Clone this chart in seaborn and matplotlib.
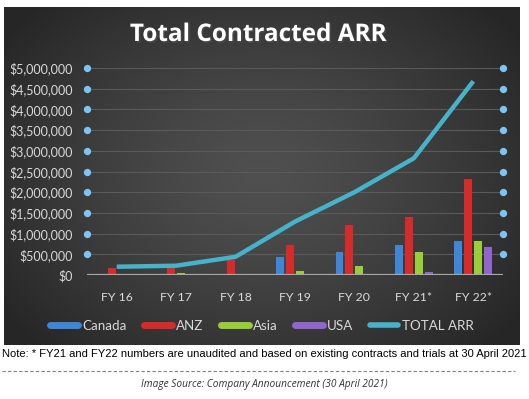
import numpy as np
import pandas as pd
import matplotlib
matplotlib.use("Agg")
import matplotlib.pyplot as plt
import seaborn as sns
from matplotlib.lines import Line2D
import matplotlib.patheffects as pe

# ---- data ----
categories = ["FY 16", "FY 17", "FY 18", "FY 19", "FY 20", "FY 21*", "FY 22*"]
canada = [0, 0, 0, 430000, 550000, 730000, 830000]
anz = [165000, 165000, 365000, 730000, 1210000, 1400000, 2320000]
asia = [0, 40000, 15000, 90000, 220000, 565000, 810000]
usa = [0, 0, 0, 0, 0, 65000, 670000]
total_arr = [200000, 225000, 440000, 1290000, 2000000, 2820000, 4680000]
regions = ["Canada", "ANZ", "Asia", "USA"]
yticks = [0, 500000, 1000000, 1500000, 2000000, 2500000, 3000000,
          3500000, 4000000, 4500000, 5000000]
ytick_labels = ["$0", "$500,000", "$1,000,000", "$1,500,000", "$2,000,000",
                "$2,500,000", "$3,000,000", "$3,500,000", "$4,000,000",
                "$4,500,000", "$5,000,000"]
title = "Total Contracted ARR"
note = "Note: * FY21 and FY22 numbers are unaudited and based on existing contracts and trials at 30 April 2021"
source = "Image Source: Company Announcement (30 April 2021)"

colors = {"Canada": "#3F86D6", "ANZ": "#D62B2B", "Asia": "#9ACD3A", "USA": "#9066CC"}
line_color = "#46B3CB"
text_color = "#D9D9D9"

df = pd.DataFrame({
    "cat": np.repeat(categories, 4),
    "region": regions * len(categories),
    "value": np.ravel(np.column_stack([canada, anz, asia, usa])),
})

W, H = 529, 399
fig = plt.figure(figsize=(W / 100, H / 100), dpi=100)
fig.patch.set_facecolor("white")

# dark gradient panel
bg = fig.add_axes([4 / W, 1 - 345 / H, 516 / W, 338 / H], zorder=-5)
gx, gy = np.meshgrid(np.linspace(0, 1, 300), np.linspace(0, 1, 200))
r = np.clip(np.sqrt(((gx - 0.5) / 0.62) ** 2 + ((gy - 0.5) / 0.72) ** 2), 0, 1)
center = np.array([0x50, 0x50, 0x50]) / 255
edge = np.array([0x26, 0x26, 0x26]) / 255
img = center[None, None, :] + (edge - center)[None, None, :] * (r[..., None] ** 1.3)
bg.imshow(img, aspect="auto", extent=(0, 1, 0, 1), origin="lower")
bg.axis("off")

ax = fig.add_axes([87 / W, 1 - 275 / H, 416 / W, 207 / H])
ax.set_facecolor("none")

sns.barplot(data=df, x="cat", y="value", hue="region", order=categories,
            hue_order=regions, palette=colors, width=0.67, gap=0.2,
            saturation=1, legend=False, ax=ax, zorder=3)
sns.lineplot(x=np.arange(len(categories)), y=total_arr, color=line_color,
             lw=3.2, ax=ax, zorder=4, solid_capstyle="butt")

ax.set_xlim(-0.5, len(categories) - 0.5)
ax.set_ylim(0, 5000000)
ax.set_yticks(yticks)
ax.set_yticklabels(ytick_labels)
ax.set_xlabel("")
ax.set_ylabel("")
for s in ax.spines.values():
    s.set_visible(False)
ax.tick_params(axis="both", length=0, colors=text_color)
ax.tick_params(axis="y", pad=10, labelsize=9.0)
ax.tick_params(axis="x", pad=12, labelsize=8.8)
for lab in ax.get_xticklabels() + ax.get_yticklabels():
    lab.set_family("Lato")
ax.grid(False)
for v in yticks[1:]:
    ax.axhline(v, color="#5A5A5A", lw=0.8, zorder=1)
ax.axhline(0, color="#A8A8A8", lw=1.6, zorder=5)

# axis dots
dots = yticks[1:]
ax.scatter([-0.5] * len(dots), dots, s=18, color="#7CC4F4", zorder=6, clip_on=False)
ax.scatter([len(categories) - 0.5] * len(dots), dots, s=18, color="#7CC4F4",
           zorder=6, clip_on=False)

fig.text(258 / W, 1 - 35 / H, title, ha="center", va="center", color="white",
         fontsize=17.5, fontweight="bold", family="Open Sans",
         path_effects=[pe.withSimplePatchShadow(offset=(1.2, -1.2), alpha=0.6)])

handles = [Line2D([0], [0], color=colors[r_], lw=5, solid_capstyle="round") for r_ in regions]
handles.append(Line2D([0], [0], color=line_color, lw=4, solid_capstyle="round"))
labels = regions + ["TOTAL ARR"]
leg = fig.legend(handles, labels, loc="center", bbox_to_anchor=(262 / W, 1 - 326 / H),
                 ncol=5, frameon=False, handlelength=2.1, handletextpad=0.3,
                 columnspacing=1.3, prop={"family": "Lato", "size": 9.6})
for t in leg.get_texts():
    t.set_color(text_color)

fig.text(2 / W, 1 - 354 / H, note, ha="left", va="center", color="black",
         fontsize=8.05, family="Liberation Sans")
fig.add_artist(Line2D([2 / W, 515 / W], [1 - 371 / H] * 2, ls=(0, (3, 2)),
                      color="#808080", lw=0.8))
fig.text(264 / W, 1 - 384 / H, source, ha="center", va="center", color="#333333",
         fontsize=7.3, style="italic", family="Open Sans")

fig.savefig("out.png", dpi=100)
